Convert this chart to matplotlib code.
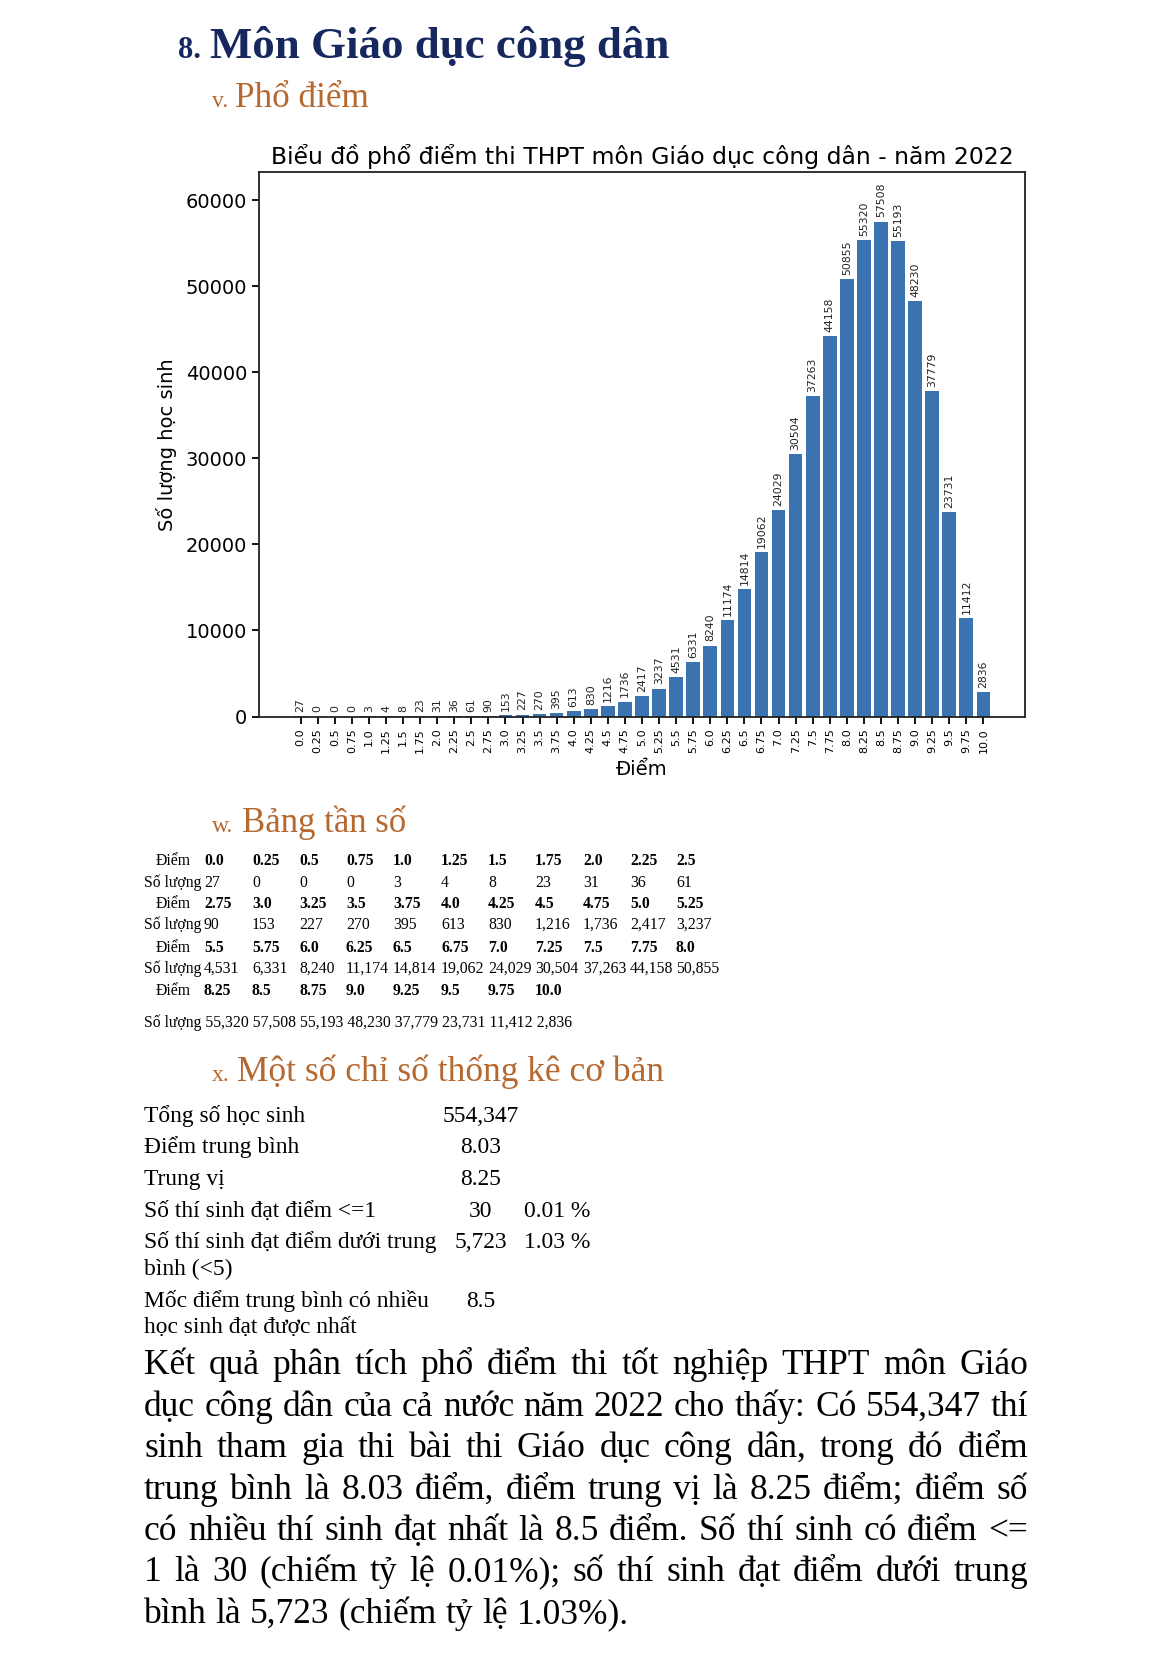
import matplotlib
matplotlib.use("Agg")
import matplotlib.pyplot as plt

# ---------------- data ----------------
scores = ["0.0", "0.25", "0.5", "0.75", "1.0", "1.25", "1.5", "1.75", "2.0", "2.25", "2.5",
          "2.75", "3.0", "3.25", "3.5", "3.75", "4.0", "4.25", "4.5", "4.75", "5.0", "5.25",
          "5.5", "5.75", "6.0", "6.25", "6.5", "6.75", "7.0", "7.25", "7.5", "7.75", "8.0",
          "8.25", "8.5", "8.75", "9.0", "9.25", "9.5", "9.75", "10.0"]
counts = [27, 0, 0, 0, 3, 4, 8, 23, 31, 36, 61,
          90, 153, 227, 270, 395, 613, 830, 1216, 1736, 2417, 3237,
          4531, 6331, 8240, 11174, 14814, 19062, 24029, 30504, 37263, 44158, 50855,
          55320, 57508, 55193, 48230, 37779, 23731, 11412, 2836]

chart_title = "Biểu đồ phổ điểm thi THPT môn Giáo dục công dân - năm 2022"
x_label = "Điểm"
y_label = "Số lượng học sinh"

heading_num = "8."
heading = "Môn Giáo dục công dân"
sec_v = ("v.", "Phổ điểm")
sec_w = ("w.", "Bảng tần số")
sec_x = ("x.", "Một số chỉ số thống kê cơ bản")

stat_labels = ["Tổng số học sinh", "Điểm trung bình", "Trung vị", "Số thí sinh đạt điểm <=1",
               "Số thí sinh đạt điểm dưới trung", "bình (<5)", "Mốc điểm trung bình có nhiều",
               "học sinh đạt được nhất"]
stat_values = ["554,347", "8.03", "8.25", "30", "5,723", "", "8.5", ""]
stat_pcts = ["", "", "", "0.01 %", "1.03 %", "", "", ""]

paragraph = [
    "Kết quả phân tích phổ điểm thi tốt nghiệp THPT môn Giáo",
    "dục công dân của cả nước năm 2022 cho thấy: Có 554,347 thí",
    "sinh tham gia thi bài thi Giáo dục công dân, trong đó điểm",
    "trung bình là 8.03 điểm, điểm trung vị là 8.25 điểm; điểm số",
    "có nhiều thí sinh đạt nhất là 8.5 điểm. Số thí sinh có điểm <=",
    "1 là 30 (chiếm tỷ lệ 0.01%); số thí sinh đạt điểm dưới trung",
    "bình là 5,723 (chiếm tỷ lệ 1.03%).",
]

# ---------------- figure ----------------
W, H = 1170, 1661
fig = plt.figure(figsize=(W / 100, H / 100), dpi=100)
fig.patch.set_facecolor("white")
renderer = fig.canvas.get_renderer()

SERIF = ["Liberation Serif", "DejaVu Serif"]
NAVY = "#17285e"
ORANGE = "#b5682f"


def fx(px):
    return px / W


def fy(py):
    return 1 - py / H


def text_px(x, y, s, size, ha="left", **kw):
    return fig.text(fx(x), fy(y), s, fontsize=size, ha=ha, va="baseline", **kw)


def fit_size(s, width_px, **kw):
    t = fig.text(0, 0, s, fontsize=20, **kw)
    w = t.get_window_extent(renderer).width
    t.remove()
    return 20 * width_px / w


# ---------------- chart ----------------
ax = fig.add_axes([fx(259), fy(716.5), (1025 - 259) / W, (716.5 - 172) / H])
bars = ax.bar(scores, counts, width=0.8, color="#3a73b0")
ax.bar_label(bars, labels=[str(c) for c in counts], rotation=90, padding=3,
             fontsize=7.8, color="#222222")
ax.set_ylim(0, max(counts) * 1.1)
ax.set_yticks([0, 10000, 20000, 30000, 40000, 50000, 60000])
ax.tick_params(axis="y", labelsize=14, length=5, width=1.3)
ax.tick_params(axis="x", labelsize=8, length=5, width=1.3, labelrotation=90)
for sp in ax.spines.values():
    sp.set_linewidth(1.3)
    sp.set_color("#222222")
tsz_title = fit_size(chart_title, 742)
ax.set_title(chart_title, fontsize=tsz_title, pad=6)
ax.set_xlabel(x_label, fontsize=14, labelpad=5)
ax.set_ylabel(y_label, fontsize=14, labelpad=6)

# ---------------- headings ----------------
text_px(178, 58, heading_num, 22, fontweight="bold", color=NAVY, family=SERIF)
hs = fit_size(heading, 458, fontweight="bold", family=SERIF)
text_px(210, 58, heading, hs, fontweight="bold", color=NAVY, family=SERIF)


def section(y, pref, title, x_title, width):
    text_px(212, y, pref, 17, color=ORANGE, family=SERIF)
    sz = fit_size(title, width, family=SERIF)
    text_px(x_title, y, title, sz, color=ORANGE, family=SERIF)


section(107, sec_v[0], sec_v[1], 235, 134)
section(832, sec_w[0], sec_w[1], 242, 164)
section(1081, sec_x[0], sec_x[1], 237, 425)

# ---------------- frequency table ----------------
last_row = "Số lượng " + " ".join(f"{c:,}" for c in counts[33:])
tsz = fit_size(last_row, 426, family=SERIF)
col_x = [204, 252, 299, 346, 393, 441, 488, 535, 583, 630, 676]
row_y = [865, 887, 908, 929, 952, 973, 995]
ncol = 11
blocks = [(scores[i:i + ncol], counts[i:i + ncol]) for i in range(0, len(scores), ncol)]
ri = 0
for bi, (sc, ct) in enumerate(blocks):
    text_px(191, row_y[ri], "Điểm", tsz, ha="right", family=SERIF)
    for j, s in enumerate(sc):
        text_px(col_x[j], row_y[ri], s, tsz, fontweight="bold", family=SERIF)
    ri += 1
    if bi < len(blocks) - 1:
        text_px(144, row_y[ri], "Số lượng", tsz, family=SERIF)
        for j, c in enumerate(ct):
            text_px(col_x[j], row_y[ri], f"{c:,}", tsz, family=SERIF)
        ri += 1
text_px(144, 1027, last_row, tsz, family=SERIF)

# ---------------- stats ----------------
ssz = fit_size(stat_labels[0], 161, family=SERIF)
stat_y = [1122, 1153, 1185, 1217, 1248, 1275, 1307, 1333]
for lab, val, pct, y in zip(stat_labels, stat_values, stat_pcts, stat_y):
    text_px(144, y, lab, ssz, family=SERIF)
    if val:
        text_px(481, y, val, ssz, ha="center", family=SERIF)
    if pct:
        text_px(524, y, pct, ssz, family=SERIF)

# ---------------- paragraph (justified) ----------------
left, right = 144, 1028
par_y = [1374, 1416, 1457, 1499, 1540, 1581, 1623]
psz = min(fit_size(l, right - left, family=SERIF) for l in paragraph[:-1]) * 0.99
for li, (line, y) in enumerate(zip(paragraph, par_y)):
    words = line.split(" ")
    objs = [text_px(left, y, w, psz, family=SERIF) for w in words]
    widths = [o.get_window_extent(renderer).width for o in objs]
    if li < len(paragraph) - 1 and len(words) > 1:
        gap = (right - left - sum(widths)) / (len(words) - 1)
    else:
        probe = fig.text(0, 0, "a a", fontsize=psz, family=SERIF)
        probe2 = fig.text(0, 0, "aa", fontsize=psz, family=SERIF)
        gap = probe.get_window_extent(renderer).width - probe2.get_window_extent(renderer).width
        probe.remove()
        probe2.remove()
    x = left
    for o, w in zip(objs, widths):
        o.set_x(fx(x))
        x += w + gap

fig.savefig("out.png", dpi=100, facecolor="white")
